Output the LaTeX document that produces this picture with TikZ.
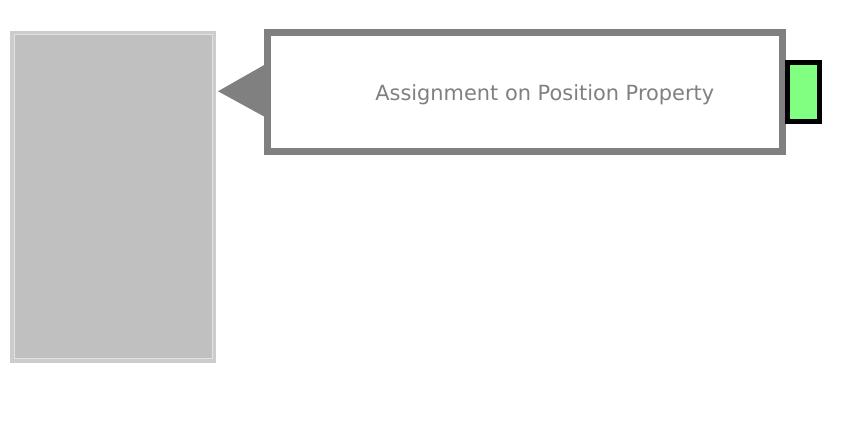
\documentclass[tikz,border=0pt]{standalone}
\usepackage{fontspec}
\setmainfont{DejaVu Sans}
\usetikzlibrary{positioning,calc}
\definecolor{panelgray}{RGB}{192,192,192}
\definecolor{panelrim}{RGB}{204,204,204}
\definecolor{panelline}{RGB}{226,226,226}
\definecolor{calloutgray}{RGB}{128,128,128}
\definecolor{portgreen}{RGB}{128,255,128}

\begin{document}
\begin{tikzpicture}[
  x=1pt,y=1pt,
  every node/.style={outer sep=0pt},
  panel/.style={draw=panelrim,line width=4pt,fill=panelgray,minimum width=202pt,minimum height=328pt},
  callout/.style={draw=calloutgray,line width=6.5pt,fill=white,minimum width=515pt,minimum height=119pt},
  port/.style={draw=black,line width=4.5pt,fill=portgreen,minimum width=32pt,minimum height=59pt},
  title/.style={text=calloutgray,font=\fontsize{20.9}{24}\selectfont}
]
\useasboundingbox (0,0) rectangle (855,442);
\node[panel] (panel) at (113,245) {};
\draw[panelline,line width=1pt] ([shift={(2,-2)}]panel.north west) rectangle ([shift={(-2,2)}]panel.south east);
\node[callout] (callout) at (524.75,349.75) {};
\node[port,right=5pt of callout] (port) {};
\node[title] (title) at ($(callout.center)+(20,-2)$) {Assignment on Position Property};
% pointer from the callout to the panel
\coordinate (tip) at ($(panel.east |- callout.west)+(4,1)$);
\fill[calloutgray] ($(callout.west)+(0,29)$) -- (tip) -- ($(callout.west)+(0,-26)$) -- cycle;
\end{tikzpicture}
\end{document}
